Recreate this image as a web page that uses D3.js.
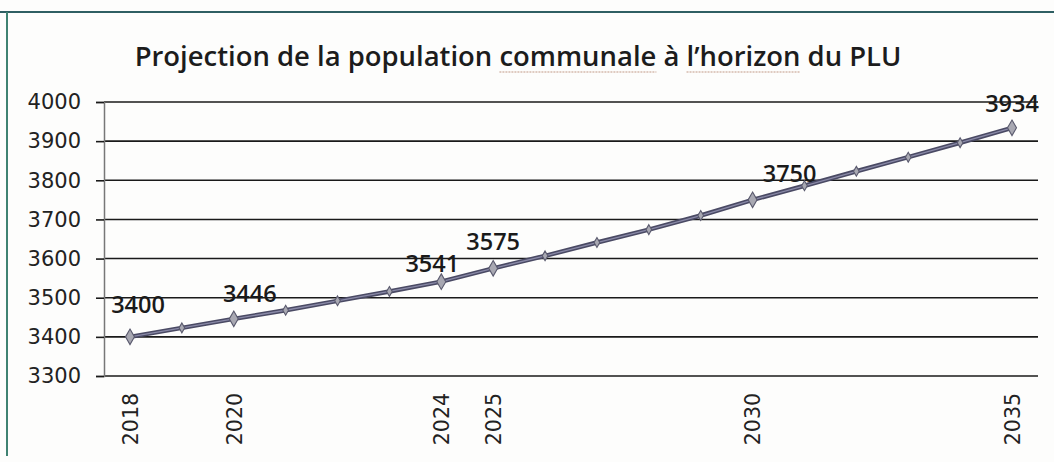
<!DOCTYPE html>
<meta charset="utf-8">
<script src="https://cdn.jsdelivr.net/npm/d3@7"></script>
<style>
  body { margin: 0; background: #fdfdfc; }
  svg { display: block; }
</style>
<div id="my_dataviz"></div>
<script>

// data
var years = [2018, 2019, 2020, 2021, 2022, 2023, 2024, 2025, 2026, 2027,
             2028, 2029, 2030, 2031, 2032, 2033, 2034, 2035];
var population = [3400, 3423, 3446, 3468, 3492, 3516, 3541, 3575, 3607, 3641,
                  3674, 3710, 3750, 3786, 3823, 3859, 3896, 3934];
var labelledYears = [2018, 2020, 2024, 2025, 2030, 2035];
var yTicks = [3300, 3400, 3500, 3600, 3700, 3800, 3900, 4000];
var title = "Projection de la population communale à l\u2019horizon du PLU";

// where each value label sits relative to its point (Excel had them dragged by hand)
var labelNudge = {2018: [8, -24], 2020: [16, -17], 2024: [-9, -10],
                  2025: [0, -18], 2030: [37, -18], 2035: [0, -16]};

var width = 1054, height = 462;
var plot = {left: 104, right: 1038, top: 102, bottom: 376};
var labelFont = "'DejaVu Sans', Verdana, sans-serif";

var svg = d3.select("#my_dataviz")
  .append("svg")
    .attr("width", width)
    .attr("height", height);

// frame of the scanned chart
svg.append("line")
  .attr("x1", 0).attr("x2", width).attr("y1", 12).attr("y2", 12)
  .attr("stroke", "#2f5f63").attr("stroke-width", 2);
svg.append("line")
  .attr("x1", 7).attr("x2", 7).attr("y1", 12).attr("y2", 456)
  .attr("stroke", "#3f8272").attr("stroke-width", 2);

var x = d3.scaleLinear()
  .domain([2018, 2035])
  .range([130, 1012]);

var y = d3.scaleLinear()
  .domain([3300, 4000])
  .range([plot.bottom, plot.top]);

// title, sized to the width it has in the picture
var t = svg.append("text")
  .attr("x", 518)
  .attr("y", 66)
  .attr("text-anchor", "middle")
  .style("font-family", "'Open Sans', 'Liberation Sans', sans-serif")
  .style("font-weight", "600")
  .style("font-size", "24px")
  .style("fill", "#1c1c1c")
  .text(title);
var tw = t.node().getComputedTextLength();
t.style("font-size", (24 * 767 / tw) + "px");

// little spell-check underlines under two words
["communale", "l\u2019horizon"].forEach(function(w) {
  var node = t.node();
  var i = title.indexOf(w);
  var total = node.getComputedTextLength();
  var start = 518 - total / 2 + node.getSubStringLength(0, i);
  var len = node.getSubStringLength(i, w.length);
  svg.append("line")
    .attr("x1", start).attr("x2", start + len)
    .attr("y1", 72).attr("y2", 72)
    .attr("stroke", "#c29a86")
    .attr("stroke-width", 1.2)
    .attr("stroke-dasharray", "2,1");
});

// gridlines
svg.append("g")
  .selectAll("line")
  .data(yTicks)
  .enter()
  .append("line")
    .attr("x1", plot.left)
    .attr("x2", plot.right)
    .attr("y1", function(d) { return y(d); })
    .attr("y2", function(d) { return y(d); })
    .attr("stroke", "#1a1a1a")
    .attr("stroke-width", 1.6);

// Y axis
var yAxis = svg.append("g")
  .attr("transform", "translate(" + plot.left + ",0)")
  .call(d3.axisLeft(y).tickValues(yTicks).tickSize(8).tickPadding(15).tickFormat(d3.format("d")));
yAxis.select(".domain").attr("stroke", "#777").attr("stroke-width", 1.5);
yAxis.selectAll(".tick line").attr("stroke", "#1a1a1a").attr("stroke-width", 1.6);
yAxis.selectAll("text")
  .style("font-family", labelFont)
  .style("font-size", "21px")
  .style("fill", "#222");

// X axis, only the labelled years
var xAxis = svg.append("g")
  .attr("transform", "translate(0," + plot.bottom + ")")
  .call(d3.axisBottom(x).tickValues(labelledYears).tickSize(0).tickFormat(d3.format("d")));
xAxis.select(".domain").remove();
xAxis.selectAll("text")
  .attr("transform", "rotate(-90)")
  .attr("x", -17)
  .attr("y", 0)
  .attr("dy", "0.36em")
  .style("text-anchor", "end")
  .style("font-family", labelFont)
  .style("font-size", "20.5px")
  .style("fill", "#222");

var points = years.map(function(d, i) { return {year: d, value: population[i]}; });

// the line: dark edge with a lighter core
var line = d3.line()
  .x(function(d) { return x(d.year); })
  .y(function(d) { return y(d.value); });

svg.append("path")
  .datum(points)
  .attr("fill", "none")
  .attr("stroke", "#4a4a64")
  .attr("stroke-width", 4.5)
  .attr("d", line);
svg.append("path")
  .datum(points)
  .attr("fill", "none")
  .attr("stroke", "#8a8aa8")
  .attr("stroke-width", 1.3)
  .attr("d", line);

// diamond markers
var bigDiamond = d3.symbol().type(d3.symbolDiamond).size(70);
var smallDiamond = d3.symbol().type(d3.symbolDiamond).size(28);
svg.append("g")
  .selectAll("path")
  .data(points)
  .enter()
  .append("path")
    .attr("transform", function(d) { return "translate(" + x(d.year) + "," + y(d.value) + ")"; })
    .attr("d", function(d) { return labelledYears.indexOf(d.year) >= 0 ? bigDiamond() : smallDiamond(); })
    .attr("fill", "#a8a8b2")
    .attr("stroke", "#5a5a6e")
    .attr("stroke-width", 1.1);

// value labels
svg.append("g")
  .selectAll("text")
  .data(points.filter(function(d) { return labelledYears.indexOf(d.year) >= 0; }))
  .enter()
  .append("text")
    .attr("x", function(d) { return x(d.year) + labelNudge[d.year][0]; })
    .attr("y", function(d) { return y(d.value) + labelNudge[d.year][1]; })
    .attr("text-anchor", "middle")
    .style("font-family", "'Open Sans', 'Liberation Sans', sans-serif")
    .style("font-weight", "600")
    .style("font-size", "23.5px")
    .style("fill", "#1a1a1a")
    .text(function(d) { return d.value; });

</script>
